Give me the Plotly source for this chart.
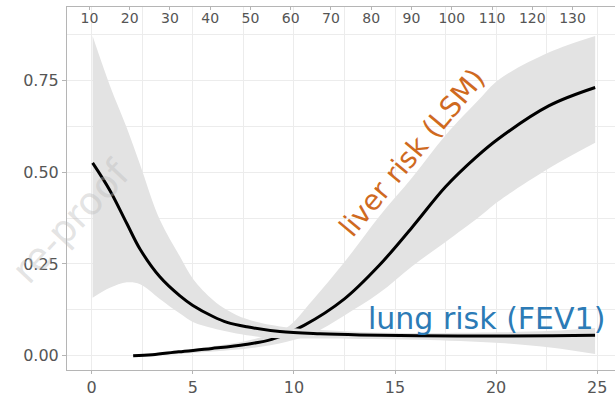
import plotly.graph_objects as go

# ---------------- data ----------------
# liver risk (LSM) -> bottom axis
liver_x = [2.05, 3.0, 4.3, 5.95, 7.6, 8.9, 10.5, 12.5, 14.2, 15.85, 17.5, 19.0, 20.1, 22.6, 24.9]
liver_y = [0.0, 0.003, 0.011, 0.02, 0.031, 0.045, 0.083, 0.155, 0.245, 0.35, 0.46, 0.54, 0.59, 0.68, 0.73]
liver_band_x = [2.05, 4.0, 6.0, 8.0, 9.6, 10.9, 12.5, 14.2, 15.85, 17.5, 19.2, 20.1, 22.6, 24.9]
liver_upper = [0.004, 0.012, 0.026, 0.045, 0.075, 0.15, 0.255, 0.378, 0.485, 0.6, 0.7, 0.75, 0.825, 0.87]
liver_lower = [0.0, 0.004, 0.012, 0.022, 0.038, 0.06, 0.11, 0.17, 0.244, 0.31, 0.38, 0.42, 0.51, 0.58]

# lung risk (FEV1) -> top axis
lung_x = [10.8, 15.1, 19.3, 22.6, 27.5, 32.5, 35.7, 40.7, 44.2, 49.1, 57.3, 67.3, 77.2, 92.1, 112.0, 125.0, 135.6]
lung_y = [0.525, 0.45, 0.36, 0.29, 0.215, 0.163, 0.137, 0.107, 0.091, 0.079, 0.066, 0.06, 0.057, 0.055, 0.054, 0.055, 0.056]
lung_upper = [0.87, 0.735, 0.62, 0.52, 0.37, 0.27, 0.21, 0.152, 0.125, 0.1, 0.08, 0.07, 0.065, 0.062, 0.064, 0.068, 0.076]
lung_lower = [0.158, 0.185, 0.2, 0.195, 0.155, 0.115, 0.092, 0.075, 0.066, 0.056, 0.048, 0.047, 0.046, 0.044, 0.035, 0.022, 0.005]

bottom_ticks = [0, 5, 10, 15, 20, 25]
top_ticks = [10, 20, 30, 40, 50, 60, 70, 80, 90, 100, 110, 120, 130]
y_ticks = [0.0, 0.25, 0.5, 0.75]

BAND = "#e3e3e3"
GRID = "#ececec"
AXIS = "#b5b5b5"
TICKFONT = "#555555"
FONT = "DejaVu Sans"

fig = go.Figure()

# liver band + line
fig.add_trace(go.Scatter(x=liver_band_x, y=liver_lower, mode="lines",
                         line=dict(width=0, shape="spline"), showlegend=False, hoverinfo="skip"))
fig.add_trace(go.Scatter(x=liver_band_x, y=liver_upper, mode="lines", fill="tonexty",
                         fillcolor=BAND, line=dict(width=0, shape="spline"),
                         showlegend=False, hoverinfo="skip"))
fig.add_trace(go.Scatter(x=liver_x, y=liver_y, mode="lines",
                         line=dict(color="black", width=3, shape="spline"), showlegend=False))

# lung band + line (top axis)
fig.add_trace(go.Scatter(x=lung_x, y=lung_lower, xaxis="x2", mode="lines",
                         line=dict(width=0, shape="spline"), showlegend=False, hoverinfo="skip"))
fig.add_trace(go.Scatter(x=lung_x, y=lung_upper, xaxis="x2", mode="lines", fill="tonexty",
                         fillcolor=BAND, line=dict(width=0, shape="spline"),
                         showlegend=False, hoverinfo="skip"))
fig.add_trace(go.Scatter(x=lung_x, y=lung_y, xaxis="x2", mode="lines",
                         line=dict(color="black", width=3, shape="spline"), showlegend=False))

fig.update_layout(
    width=615, height=397,
    margin=dict(l=67, r=0, t=7, b=23),
    paper_bgcolor="white", plot_bgcolor="white",
    font=dict(family=FONT, color=TICKFONT),
    showlegend=False,
    xaxis=dict(
        range=[-1.222, 25.88], tickvals=bottom_ticks,
        ticks="outside", ticklen=3, tickcolor=AXIS,
        tickfont=dict(size=16, color=TICKFONT),
        showline=True, linecolor=AXIS, linewidth=1,
        showgrid=True, gridcolor=GRID, gridwidth=1,
        minor=dict(tick0=0, dtick=2.5, showgrid=True, gridcolor=GRID, gridwidth=1),
        zeroline=False,
    ),
    xaxis2=dict(
        overlaying="x", side="top", anchor="y",
        range=[4.44, 140.55], tickvals=top_ticks,
        ticks="inside", ticklen=3, tickcolor=AXIS,
        ticklabelposition="inside", ticklabelstandoff=3,
        tickfont=dict(size=14, color=TICKFONT),
        showline=True, linecolor=AXIS, linewidth=1,
        showgrid=False, zeroline=False,
    ),
    yaxis=dict(
        range=[-0.0385, 0.9491], tickvals=y_ticks, tickformat=".2f",
        ticks="outside", ticklen=4, tickcolor=AXIS,
        tickfont=dict(size=16, color=TICKFONT),
        showline=True, linecolor=AXIS, linewidth=1,
        showgrid=True, gridcolor=GRID, gridwidth=1,
        minor=dict(tick0=0, dtick=0.125, showgrid=True, gridcolor=GRID, gridwidth=1),
        zeroline=False,
    ),
)

# labels
fig.add_annotation(x=15.85, y=0.5535, xref="x", yref="y", text="liver risk (LSM)",
                   showarrow=False, textangle=-50, xanchor="center", yanchor="middle",
                   font=dict(family=FONT, size=28, color="#cf6a1f"))
fig.add_annotation(x=19.5, y=0.1025, xref="x", yref="y", text="lung risk (FEV1)",
                   showarrow=False, xanchor="center", yanchor="middle",
                   font=dict(family=FONT, size=30, color="#2c7bb6"))
# faint watermark
fig.add_annotation(x=0.008, y=0.41, xref="paper", yref="paper", text="re-proof",
                   showarrow=False, textangle=-47, xanchor="center", yanchor="middle",
                   font=dict(family=FONT, size=38, color="rgba(185,185,185,0.4)"))

fig.write_html("out.html")
